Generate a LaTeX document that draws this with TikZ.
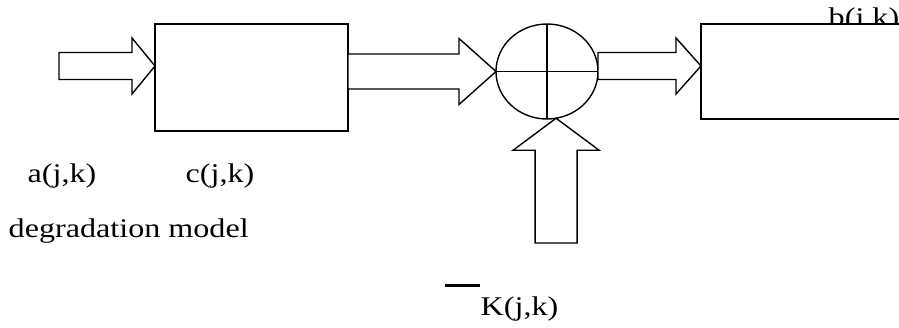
\documentclass[tikz,border=0pt]{standalone}
\usepackage{fontspec}
\setmainfont{Liberation Serif}[FakeStretch=1.19]
\usetikzlibrary{calc}
\usetikzlibrary{shapes.geometric}

% hollow block arrow pointing right: tail, tip, shaft half width, head half width, head length
\newcommand{\harrow}[5]{%
  \draw[fat] let \p1=(#1), \p2=(#2) in
    (\x1,\y2-#3) -- (\x2-#5,\y2-#3) -- (\x2-#5,\y2-#4) -- (\p2)
    -- (\x2-#5,\y2+#4) -- (\x2-#5,\y2+#3) -- (\x1,\y2+#3) -- cycle;}
% hollow block arrow pointing up
\newcommand{\varrow}[5]{%
  \draw[fat] let \p1=(#1), \p2=(#2) in
    (\x2-#3,\y1) -- (\x2-#3,\y2-#5) -- (\x2-#4,\y2-#5) -- (\p2)
    -- (\x2+#4,\y2-#5) -- (\x2+#3,\y2-#5) -- (\x2+#3,\y1) -- cycle;}

\begin{document}
\begin{tikzpicture}[x=1pt,y=-1pt,
    every path/.style={line width=1.4pt},
    fat/.style={draw,fill=white,line join=miter},
    blk/.style={draw,fill=white,inner sep=0pt,outer sep=0pt},
    lbl/.style={inner sep=0pt,font=\fontsize{27}{32}\selectfont}]
  \useasboundingbox (0,0) rectangle (899,327);

  %blocks
  \node[blk,minimum width=193pt,minimum height=107pt] (deg) at (251.5,77.5) {};
  \node[blk,ellipse,minimum width=102pt,minimum height=95pt] (sum) at (547,71.5) {};
  \draw (sum.north) -- (sum.south);
  \draw (sum.west) -- (sum.east);

  %output label, partly hidden by the last block
  \node[lbl,anchor=base west] (bl) at (828,26.5) {b(j,k)};
  \node[blk,minimum width=259pt,minimum height=95pt] (rst) at (830.5,71.5) {};

  %block arrows
  \coordinate (src) at (59,66);
  \coordinate (ksrc) at (556,243);
  \harrow{src}{deg.west |- src}{13.5}{28}{23}
  \harrow{deg.east}{sum.west}{17.5}{33}{37}
  \harrow{sum.east |- src}{rst.west |- src}{13.5}{28}{25}
  \varrow{ksrc}{sum.-79}{21}{43}{32}

  %labels
  \node[lbl,anchor=base west] (al) at (27,182) {a(j,k)};
  \node[lbl,anchor=base west] (cl) at (185,182) {c(j,k)};
  \node[lbl,anchor=base west] (dl) at (8,237) {degradation model};
  \node[lbl,anchor=base west] (kl) at (480,315) {K(j,k)};
  \draw[line width=2.6pt] ([xshift=-35pt,yshift=10pt]kl.north west) -- ([yshift=10pt]kl.north west);

\end{tikzpicture}
\end{document}
